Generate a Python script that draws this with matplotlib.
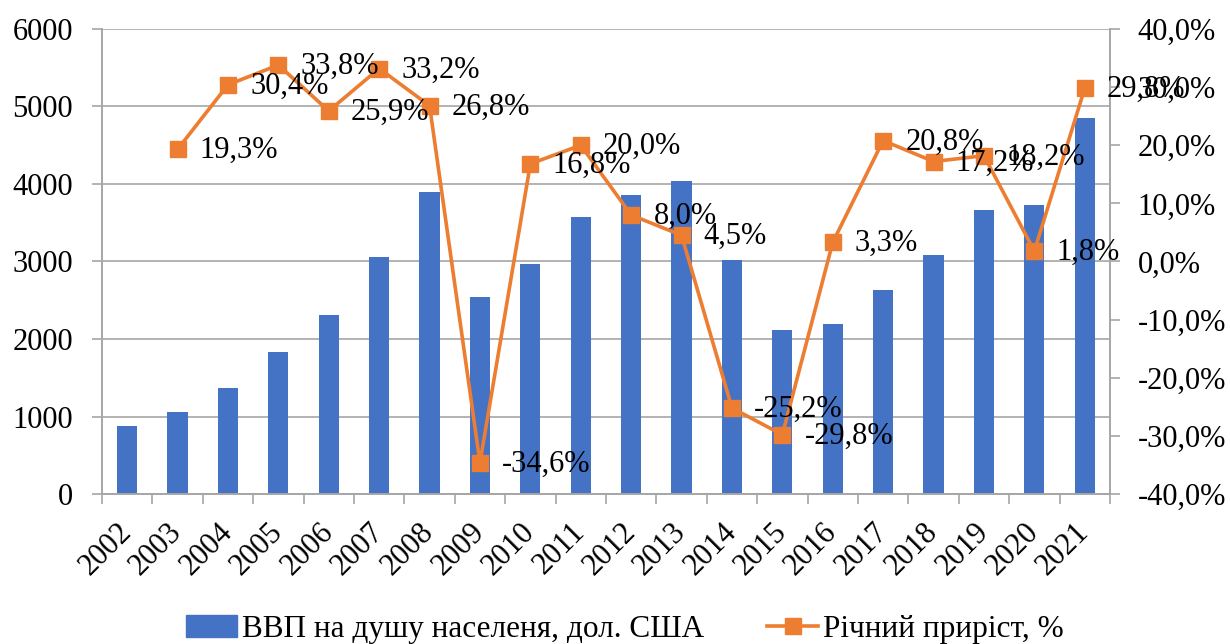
import matplotlib.pyplot as plt
from matplotlib.patches import Patch
from matplotlib.lines import Line2D
from matplotlib.ticker import FuncFormatter

plt.rcParams['font.family'] = ['Liberation Serif', 'DejaVu Serif']

# data
years = [str(y) for y in range(2002, 2022)]
gdp = [875, 1055, 1364, 1827, 2304, 3063, 3900, 2548, 2973, 3578,
       3861, 4041, 3024, 2111, 2188, 2638, 3089, 3668, 3732, 4852]
growth_years = years[1:]
growth = [19.3, 30.4, 33.8, 25.9, 33.2, 26.8, -34.6, 16.8, 20.0, 8.0,
          4.5, -25.2, -29.8, 3.3, 20.8, 17.2, 18.2, 1.8, 29.8]

blue = '#4472C4'
orange = '#ED7D31'
grey = '#A6A6A6'
fs = 22

fig = plt.figure(figsize=(12.3, 6.44), dpi=100)
ax = fig.add_axes([0.0829, 0.2329, 0.8195, 0.7221])
ax2 = ax.twinx()

x = list(range(len(years)))
ax.bar(x, gdp, width=0.4, color=blue, zorder=2)
ax.set_xlim(-0.5, len(years) - 0.5)
ax.set_ylim(0, 6000)
ax.set_yticks(range(0, 6001, 1000))
ax.yaxis.grid(True, color=grey, linewidth=1.2, zorder=0)
ax.set_axisbelow(True)

gx = [years.index(y) for y in growth_years]
ax2.plot(gx, growth, color=orange, linewidth=2.6, marker='s',
         markersize=11.5, zorder=3)
ax2.set_ylim(-40, 40)
ax2.set_yticks(range(-40, 41, 10))
ax2.yaxis.set_major_formatter(FuncFormatter(lambda v, p: f'{v:.1f}%'.replace('.', ',')))

for xi, v in zip(gx, growth):
    ax2.annotate(f'{v:.1f}%'.replace('.', ','), (xi, v), xytext=(16, -1),
                 textcoords='offset points', ha='left', va='center',
                 fontsize=fs, annotation_clip=False)

# category ticks at boundaries, labels at centres
ax.set_xticks([i - 0.5 for i in range(len(years) + 1)])
ax.set_xticklabels([])
ax.set_xticks(x, minor=True)
ax.set_xticklabels(years, minor=True, rotation=45, ha='right',
                   va='center', rotation_mode='anchor', fontsize=fs)
ax.tick_params(axis='x', which='minor', length=0, pad=24)
ax.tick_params(axis='x', which='major', length=7, color=grey, width=1.2)
ax.tick_params(axis='y', length=7, color=grey, width=1.2, labelsize=fs, pad=14)
ax2.tick_params(axis='y', length=7, color=grey, width=1.2, labelsize=fs, pad=13)

for a in (ax, ax2):
    for s in a.spines.values():
        s.set_color(grey)
        s.set_linewidth(1.2)
    a.spines['top'].set_visible(False)

handles = [Patch(color=blue),
           Line2D([], [], color=orange, linewidth=2.6, marker='s', markersize=11.5)]
labels = ['ВВП на душу населеня, дол. США', 'Річний приріст, %']
fig.legend(handles, labels, loc='center', bbox_to_anchor=(0.508, 0.022),
           ncol=2, frameon=False, fontsize=22.5, handlelength=1.65,
           handletextpad=0.15, columnspacing=2.0)

fig.savefig('out.png', dpi=100)
